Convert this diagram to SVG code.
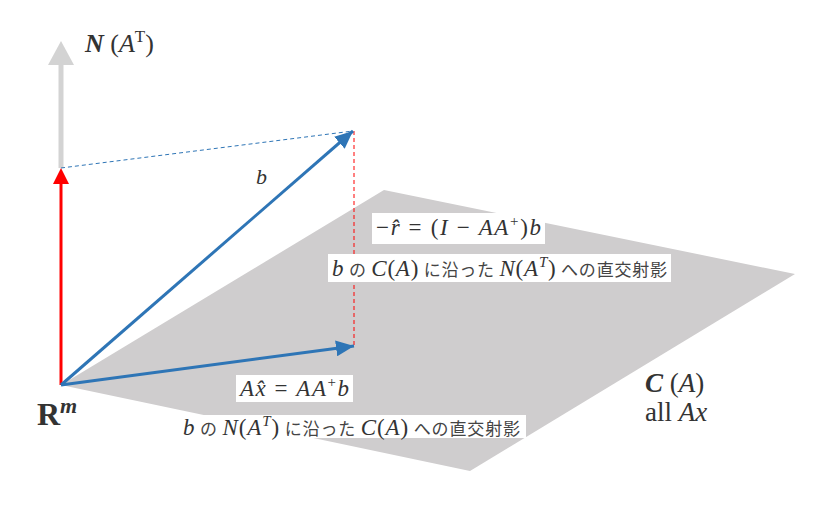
<svg xmlns="http://www.w3.org/2000/svg" width="834" height="507" viewBox="0 0 834 507">
<style>
.m{font-family:"Liberation Serif","DejaVu Serif",serif;fill:#333}
.i{font-style:italic}
.jp{font-family:"Noto Sans CJK JP","Noto Sans",sans-serif;fill:#444}
.bx{fill:#fff}
.blue{stroke:#2e75b6;stroke-width:3;fill:none}
</style>
<defs>
<marker id="ab" markerUnits="userSpaceOnUse" markerWidth="20" markerHeight="16" refX="18" refY="8" orient="auto"><path d="M0,0 L18,8 L0,16 Z" fill="#2e75b6"/></marker>
</defs>
<g id="plane"><polygon points="61,385 384,190 795,274 470,471" fill="#cfcdce"/></g>
<g id="connectors">
<line x1="61" y1="168" x2="61" y2="62" stroke="#d3d3d3" stroke-width="5"/>
<polygon points="61,41 48,65 74,65" fill="#d3d3d3"/>
<line x1="61" y1="385" x2="61" y2="182" stroke="#ff0000" stroke-width="3"/>
<polygon points="61,168 53,184 69,184" fill="#ff0000"/>
<line x1="61" y1="168" x2="353" y2="131" stroke="#2e75b6" stroke-width="1" stroke-dasharray="4,3"/>
<line x1="354" y1="131" x2="354" y2="346" stroke="#ff0000" stroke-width="1" stroke-dasharray="4,3"/>
<line class="blue" x1="61" y1="385" x2="353" y2="131" marker-end="url(#ab)"/>
<line class="blue" x1="61" y1="385" x2="354" y2="346" marker-end="url(#ab)"/>
</g>
<g id="label-NAT"><text class="m" x="85" y="52" font-size="26" fill="#222"><tspan font-weight="bold" font-style="italic">N</tspan><tspan> (</tspan><tspan class="i">A</tspan><tspan font-size="17" dy="-10">T</tspan><tspan dy="10">)</tspan></text></g>
<g id="label-b"><text class="m i" x="256" y="184" font-size="22">b</text></g>
<g id="label-r">
<rect class="bx" x="372" y="213" width="173" height="31"/>
<text class="m" x="376" y="235" font-size="23" textLength="165">−<tspan class="i">r̂</tspan> = (<tspan class="i">I</tspan> − <tspan class="i">AA</tspan><tspan font-size="15" dy="-9">+</tspan><tspan dy="9">)</tspan><tspan class="i">b</tspan></text>
</g>
<g id="label-proj1">
<rect class="bx" x="328" y="254" width="343" height="28"/>
<text x="332" y="276" font-size="23" textLength="335"><tspan class="m i">b</tspan><tspan class="jp" font-size="17"> の </tspan><tspan class="m i">C</tspan><tspan class="m">(</tspan><tspan class="m i">A</tspan><tspan class="m">)</tspan><tspan class="jp" font-size="17"> に沿った </tspan><tspan class="m i">N</tspan><tspan class="m">(</tspan><tspan class="m i">A</tspan><tspan class="m i" font-size="15" dy="-9">T</tspan><tspan class="m" dy="9">)</tspan><tspan class="jp" font-size="17"> への直交射影</tspan></text>
</g>
<g id="label-Ax">
<rect class="bx" x="236" y="375" width="117" height="27"/>
<text class="m" x="240" y="396" font-size="23" textLength="109"><tspan class="i">A</tspan><tspan class="i">x̂</tspan> = <tspan class="i">AA</tspan><tspan font-size="15" dy="-9">+</tspan><tspan class="i" dy="9">b</tspan></text>
</g>
<g id="label-proj2">
<rect class="bx" x="178" y="415" width="348" height="23"/>
<text x="183" y="435" font-size="23" textLength="337"><tspan class="m i">b</tspan><tspan class="jp" font-size="17"> の </tspan><tspan class="m i">N</tspan><tspan class="m">(</tspan><tspan class="m i">A</tspan><tspan class="m i" font-size="15" dy="-9">T</tspan><tspan class="m" dy="9">)</tspan><tspan class="jp" font-size="17"> に沿った </tspan><tspan class="m i">C</tspan><tspan class="m">(</tspan><tspan class="m i">A</tspan><tspan class="m">)</tspan><tspan class="jp" font-size="17"> への直交射影</tspan></text>
</g>
<g id="label-Rm"><text class="m" x="37" y="425" font-size="32" font-weight="bold" fill="#111">R<tspan font-size="22" font-style="italic" dy="-12">m</tspan></text></g>
<g id="label-CA">
<text class="m" x="645" y="392" font-size="27" fill="#222"><tspan font-weight="bold" font-style="italic">C</tspan> (<tspan class="i">A</tspan>)</text>
<text class="m" x="645" y="421" font-size="27" fill="#222">all <tspan class="i">Ax</tspan></text>
</g>
</svg>
